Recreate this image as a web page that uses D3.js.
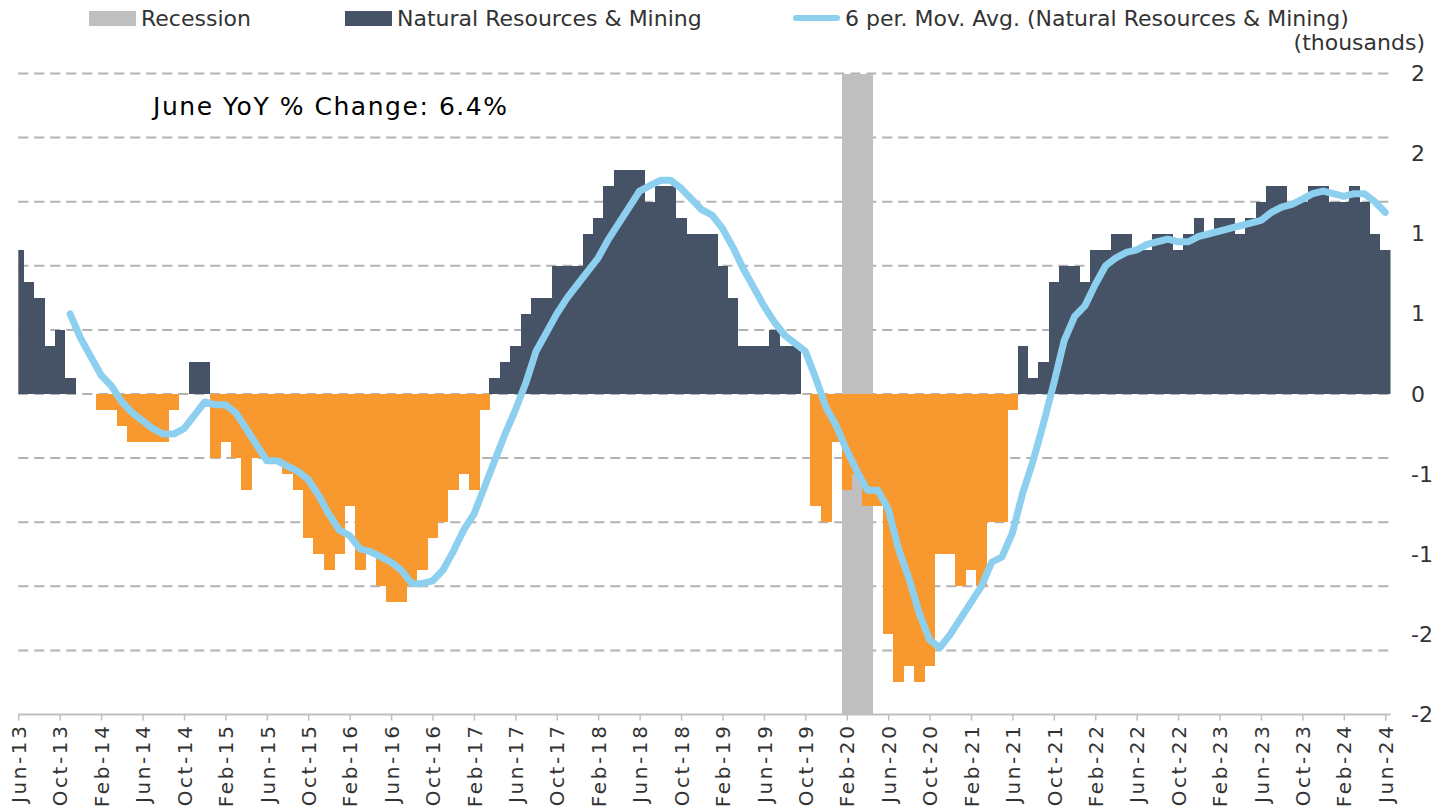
<!DOCTYPE html>
<html>
<head>
<meta charset="utf-8">
<script src="https://cdn.jsdelivr.net/npm/d3@7"></script>
<style>
  html, body { margin: 0; padding: 0; background: #fff; }
  svg { display: block; font-family: "DejaVu Sans", Verdana, sans-serif; }
</style>
</head>
<body>
<svg id="chart" width="1435" height="809"></svg>
<script>
// ---------------- data ----------------
const startMonth = "Jun-13";
const endMonth = "Jun-24";
// monthly YoY change, Natural Resources & Mining (thousands), Jun-13 .. Jun-24
const values = [
  0.9, 0.7, 0.6, 0.3, 0.4, 0.1, 0, 0, -0.1, -0.1, -0.2, -0.3,
  -0.3, -0.3, -0.3, -0.1, 0, 0.2, 0.2, -0.4, -0.3, -0.4, -0.6, -0.4,
  -0.4, -0.4, -0.5, -0.6, -0.9, -1.0, -1.1, -1.0, -0.7, -1.1, -1.0, -1.2,
  -1.3, -1.3, -1.2, -1.1, -0.9, -0.8, -0.6, -0.5, -0.6, -0.1, 0.1, 0.2,
  0.3, 0.5, 0.6, 0.6, 0.8, 0.8, 0.8, 1.0, 1.1, 1.3, 1.4, 1.4,
  1.4, 1.2, 1.3, 1.3, 1.1, 1.0, 1.0, 1.0, 0.8, 0.6, 0.3, 0.3,
  0.3, 0.4, 0.3, 0.3, 0, -0.7, -0.8, -0.3, -0.6, -0.5, -0.7, -0.7,
  -1.5, -1.8, -1.7, -1.8, -1.7, -1.0, -1.0, -1.2, -1.1, -1.2, -0.8, -0.8,
  -0.1, 0.3, 0.1, 0.2, 0.7, 0.8, 0.8, 0.7, 0.9, 0.9, 1.0, 1.0,
  0.9, 0.9, 1.0, 1.0, 0.9, 1.0, 1.1, 1.0, 1.1, 1.1, 1.0, 1.1,
  1.2, 1.3, 1.3, 1.2, 1.2, 1.3, 1.3, 1.2, 1.2, 1.3, 1.2, 1.0,
  0.9
];
const recessionMonths = ["Feb-20", "Mar-20", "Apr-20"];
const movAvgPeriod = 6;
const xTickLabels = [
  "Jun-13","Oct-13","Feb-14","Jun-14","Oct-14","Feb-15","Jun-15","Oct-15","Feb-16",
  "Jun-16","Oct-16","Feb-17","Jun-17","Oct-17","Feb-18","Jun-18","Oct-18","Feb-19",
  "Jun-19","Oct-19","Feb-20","Jun-20","Oct-20","Feb-21","Jun-21","Oct-21","Feb-22",
  "Jun-22","Oct-22","Feb-23","Jun-23","Oct-23","Feb-24","Jun-24"
];
const yTickValues = [2, 1.5, 1, 0.5, 0, -0.5, -1, -1.5, -2];
const yTickLabels = ["2", "2", "1", "1", "0", "-1", "-1", "-2", "-2"];
const gridValues = [2, 1.6, 1.2, 0.8, 0.4, 0, -0.4, -0.8, -1.2, -1.6];
const legendLabels = ["Recession", "Natural Resources & Mining", "6 per. Mov. Avg. (Natural Resources & Mining)"];
const unitLabel = "(thousands)";
const annotation = "June YoY % Change: 6.4%";

// ---------------- setup ----------------
const parse = d3.timeParse("%b-%y");
const fmt = d3.timeFormat("%b-%y");
const months = d3.timeMonth.range(parse(startMonth), d3.timeMonth.offset(parse(endMonth), 1)).map(fmt);
const data = months.map((m, i) => ({ month: m, i, v: values[i] }));

const svg = d3.select("#chart");
const C = { dark: "#465265", orange: "#F7992F", line: "#8CCFEF", rec: "#BFBFBF", grid: "#B3B3B3", text: "#333333", axis: "#BFBFBF" };

const plotLeft = 18.3, plotRight = 1390.5;
const x = d3.scaleLinear().domain([0, months.length - 1]).range([plotLeft, 1385.2]);
const y = d3.scaleLinear().domain([-2, 2]).range([714.5, 73.5]);
const step = x(1) - x(0);

svg.append("defs").append("clipPath").attr("id", "plotclip")
  .append("rect").attr("x", plotLeft).attr("y", 0).attr("width", plotRight - plotLeft).attr("height", 809);

// gridlines
svg.append("g").selectAll("line").data(gridValues).join("line")
  .attr("x1", plotLeft).attr("x2", plotRight)
  .attr("y1", d => y(d)).attr("y2", d => y(d))
  .attr("stroke", C.grid).attr("stroke-width", 2).attr("stroke-dasharray", "10,6");

// recession band
const recIdx = recessionMonths.map(m => months.indexOf(m));
svg.append("g").attr("clip-path", "url(#plotclip)").selectAll("rect").data(recIdx).join("rect")
  .attr("x", d => x(d - 0.5)).attr("width", step + 0.4)
  .attr("y", y(2)).attr("height", y(-2) - y(2))
  .attr("fill", C.rec).attr("shape-rendering", "crispEdges");

// bars
svg.append("g").attr("clip-path", "url(#plotclip)").selectAll("rect").data(data.filter(d => d.v !== 0)).join("rect")
  .attr("x", d => x(d.i - 0.5)).attr("width", step + 0.4)
  .attr("y", d => y(Math.max(0, d.v))).attr("height", d => Math.abs(y(d.v) - y(0)))
  .attr("fill", d => d.v >= 0 ? C.dark : C.orange)
  .attr("shape-rendering", "crispEdges");

// x axis
const tickIdx = xTickLabels.map(l => months.indexOf(l));
const xAxis = svg.append("g").attr("transform", `translate(0,${y(-2)})`)
  .call(d3.axisBottom(x).tickValues(tickIdx).tickSize(6).tickPadding(8).tickFormat(i => months[i]));
xAxis.select(".domain").remove();
xAxis.selectAll(".tick line").attr("stroke", C.axis).attr("stroke-width", 1.5);
xAxis.append("line").attr("x1", plotLeft).attr("x2", plotRight).attr("y1", 0).attr("y2", 0)
  .attr("stroke", C.axis).attr("stroke-width", 2);
xAxis.selectAll(".tick text")
  .attr("transform", "rotate(-90)")
  .attr("text-anchor", "end")
  .attr("x", -9).attr("y", 0).attr("dy", "0.36em")
  .attr("fill", C.text)
  .style("font-size", "20px").style("letter-spacing", "2.6px")
  .style("font-family", "'DejaVu Sans', Verdana, sans-serif");

// moving average line
const ma = data.slice(movAvgPeriod - 1).map(d => ({
  i: d.i, v: d3.mean(values.slice(d.i - movAvgPeriod + 1, d.i + 1))
}));
svg.append("path").datum(ma)
  .attr("d", d3.line().x(d => x(d.i)).y(d => y(d.v)))
  .attr("fill", "none").attr("stroke", C.line).attr("stroke-width", 7)
  .attr("stroke-linejoin", "round").attr("stroke-linecap", "round");

// y axis (right)
const yAxis = svg.append("g").attr("transform", "translate(1400,0)")
  .call(d3.axisRight(y).tickValues(yTickValues).tickSize(0).tickPadding(11)
    .tickFormat((d, k) => yTickLabels[k]));
yAxis.select(".domain").remove();
yAxis.selectAll(".tick text").attr("fill", C.text)
  .style("font-size", "22px").style("font-family", "'DejaVu Sans', Verdana, sans-serif");

svg.append("text").attr("x", 1425).attr("y", 50).attr("text-anchor", "end")
  .attr("fill", C.text).style("font-size", "22px").text(unitLabel);

// annotation
svg.append("text").attr("x", 153).attr("y", 115)
  .attr("fill", "#000").style("font-size", "25px")
  .attr("textLength", 354).attr("lengthAdjust", "spacing")
  .text(annotation);

// legend
const lg = svg.append("g");
const legendPos = [89, 345, 793];
lg.append("rect").attr("x", legendPos[0]).attr("y", 11).attr("width", 47).attr("height", 15).attr("fill", C.rec);
lg.append("rect").attr("x", legendPos[1]).attr("y", 11).attr("width", 47).attr("height", 15).attr("fill", C.dark);
lg.append("line").attr("x1", legendPos[2] + 3).attr("x2", legendPos[2] + 44).attr("y1", 18).attr("y2", 18)
  .attr("stroke", C.line).attr("stroke-width", 6).attr("stroke-linecap", "round");
lg.selectAll("text").data(legendLabels).join("text")
  .attr("x", (d, k) => legendPos[k] + 52).attr("y", 26)
  .attr("fill", C.text).style("font-size", "22px")
  .text(d => d);
</script>
</body>
</html>
